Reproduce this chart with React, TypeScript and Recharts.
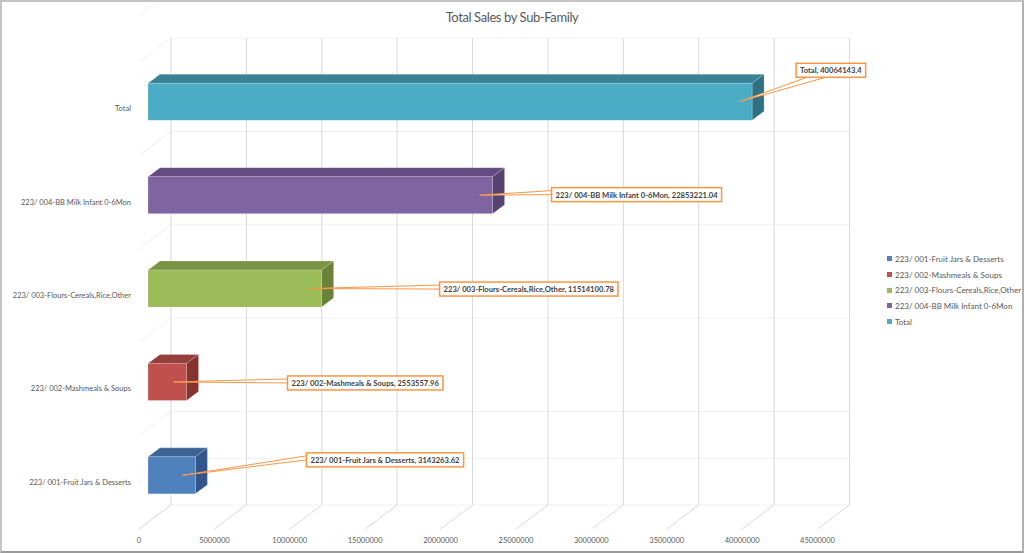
import React from "react";
import { BarChart, Bar, XAxis, YAxis, CartesianGrid, LabelList, Legend } from "recharts";

// ---- data ----
const categories = [
  "223/ 001-Fruit Jars & Desserts",
  "223/ 002-Mashmeals & Soups",
  "223/ 003-Flours-Cereals,Rice,Other",
  "223/ 004-BB Milk Infant 0-6Mon",
  "Total",
];
const salesValues = [3143263.62, 2553557.96, 11514100.78, 22853221.04, 40064143.4];
const valueTicks = [0, 5000000, 10000000, 15000000, 20000000, 25000000, 30000000, 35000000, 40000000, 45000000];

// ---- styling ----
const FRONT = ["#4F81BD", "#C0504D", "#9BBB59", "#8064A2", "#4BACC6"];
const TOP = ["#3C6496", "#953E3B", "#7A9445", "#634D80", "#388296"];
const SIDE = ["#34568A", "#84332F", "#6A813B", "#56436F", "#2F7183"];
// callout box offset relative to bar end / bar centre (layout only)
const LABEL_OFFSET: [number, number][] = [
  [111, -22.5],
  [101, -6],
  [118, -6.5],
  [59, -7.5],
  [44, -38.5],
];

const FONT = "Lato, 'Open Sans', sans-serif";
const DX = 12; // bar depth x
const DY = 9; // bar depth y
const BACK_X = 23;
const BACK_Y = 17.25;
const FRONT_X = 9;
const FRONT_Y = 6.75;

const data = categories.map((name, i) => ({ name, value: salesValues[i] }));

let _ctx: CanvasRenderingContext2D | null = null;
function measure(text: string, font: string): number {
  if (!_ctx) {
    const c = document.createElement("canvas");
    _ctx = c.getContext("2d");
  }
  if (!_ctx) return text.length * 4;
  _ctx.font = font;
  return _ctx.measureText(text).width;
}

const Bar3D = (props: any) => {
  const { x, y, width, height, index } = props;
  if (width == null || height == null) return null;
  const w = Math.max(0, width);
  const edge = "rgba(255,255,255,0.35)";
  return (
    <g>
      <polygon
        points={`${x},${y} ${x + DX},${y - DY} ${x + w + DX},${y - DY} ${x + w},${y}`}
        fill={TOP[index]}
        stroke={edge}
        strokeWidth={0.5}
      />
      <polygon
        points={`${x + w},${y} ${x + w + DX},${y - DY} ${x + w + DX},${y + height - DY} ${x + w},${y + height}`}
        fill={SIDE[index]}
        stroke={edge}
        strokeWidth={0.5}
      />
      <rect x={x} y={y} width={w} height={height} fill={FRONT[index]} stroke={edge} strokeWidth={0.5} />
    </g>
  );
};

const LABEL_FONT_SIZE = 7.6;
const LABEL_FONT = `bold ${LABEL_FONT_SIZE}px Lato`;

const Callout = (props: any) => {
  const { x, y, width, height, index, value } = props;
  const text = `${categories[index]}, ${value}`;
  const endX = x + width;
  const cy = y + height / 2;
  const [ox, oy] = LABEL_OFFSET[index];
  const bx = endX + ox;
  const by = cy + oy;
  const tw = measure(text, LABEL_FONT);
  const bw = tw + 8;
  const bh = 14;
  const sx = endX - 13;
  const sy = cy;
  let pts: string;
  if (bx - sx > 3 * (sy - (by + bh))) {
    pts = `${sx},${sy} ${bx},${by + 3} ${bx},${by + 7}`;
  } else {
    pts = `${sx},${sy} ${bx + 11},${by + bh} ${bx + 30},${by + bh}`;
  }
  return (
    <g>
      <polygon points={pts} fill="#ffffff" stroke="#F79646" strokeWidth={1} strokeLinejoin="round" />
      <rect x={bx} y={by} width={bw} height={bh} fill="#ffffff" stroke="#F79646" strokeWidth={1.5} />
      <text
        x={bx + bw / 2}
        y={by + bh / 2}
        textAnchor="middle"
        dominantBaseline="central"
        fontFamily={FONT}
        fontWeight="bold"
        fontSize={LABEL_FONT_SIZE}
        fill="#404040"
      >
        {text}
      </text>
    </g>
  );
};

const gridColor = "#d9d9d9";
const wallColor = "#f0f0f0";

const renderVertical = (p: any) => {
  const x = p.x1;
  const top = p.y1;
  const bottom = p.y2;
  return (
    <g key={p.key ?? `v-${p.index}`}>
      <line x1={x + BACK_X} y1={top - BACK_Y} x2={x + BACK_X} y2={bottom - BACK_Y} stroke={gridColor} strokeWidth={1} />
      <line x1={x + BACK_X} y1={bottom - BACK_Y} x2={x - FRONT_X} y2={bottom + FRONT_Y} stroke={gridColor} strokeWidth={1} />
    </g>
  );
};

const renderHorizontal = (p: any) => {
  const band = p.height / categories.length;
  const left = p.x;
  const right = p.x + p.width;
  const lines = [p.y1 - band / 2];
  if (p.index === categories.length - 1) lines.push(p.y1 + band / 2);
  if (p.index === 0) lines.push(p.y1 + band / 2);
  return (
    <g key={p.key ?? `h-${p.index}`}>
      {lines.map((yy, k) => (
        <g key={k}>
          <line x1={left + BACK_X} y1={yy - BACK_Y} x2={right + BACK_X} y2={yy - BACK_Y} stroke={wallColor} strokeWidth={1} />
          <line x1={left + BACK_X} y1={yy - BACK_Y} x2={left - FRONT_X} y2={yy + FRONT_Y} stroke={wallColor} strokeWidth={1} />
        </g>
      ))}
    </g>
  );
};

const XTick = (p: any) => (
  <text
    x={p.x - FRONT_X}
    y={p.y + 18}
    textAnchor="middle"
    dominantBaseline="central"
    fontFamily={FONT}
    fontSize={7.5}
    fill="#595959"
  >
    {p.payload.value}
  </text>
);

const YTick = (p: any) => (
  <text
    x={p.x}
    y={p.y + FRONT_Y}
    textAnchor="end"
    dominantBaseline="central"
    fontFamily={FONT}
    fontSize={7.5}
    fill="#595959"
  >
    {p.payload.value}
  </text>
);

const LegendContent = () => (
  <div style={{ fontFamily: FONT, fontSize: 8, color: "#595959" }}>
    {categories.map((c, i) => (
      <div key={c} style={{ display: "flex", alignItems: "center", height: 15.7, whiteSpace: "nowrap" }}>
        <span style={{ display: "inline-block", width: 5, height: 5, background: FRONT[i], marginRight: 3 }} />
        <span>{c}</span>
      </div>
    ))}
  </div>
);

export default function App() {
  return (
    <div
      style={{
        position: "absolute",
        left: 0,
        top: 0,
        width: 1024,
        height: 553,
        background: "#fff",
        boxSizing: "border-box",
        borderTop: "2px solid #c4c4c4",
        borderLeft: "2px solid #c4c4c4",
        borderRight: "2px solid #b0b0b0",
        borderBottom: "2px solid #9a9a9a",
        overflow: "hidden",
      }}
    >
      <div
        style={{
          position: "absolute",
          left: 0,
          top: 7,
          width: 1020,
          textAlign: "center",
          fontFamily: FONT,
          fontSize: 13,
          letterSpacing: -0.4,
          color: "#595959",
        }}
      >
        Total Sales by Sub-Family
      </div>
      <div style={{ position: "absolute", left: -2, top: -2 }}>
        <BarChart
          width={1024}
          height={553}
          data={data}
          layout="vertical"
          margin={{ top: 55.25, right: 197.5, bottom: 0, left: 0 }}
          barCategoryGap={(93.4 - 37) / 2}
        >
          <CartesianGrid vertical={renderVertical} horizontal={renderHorizontal} />
          <XAxis
            type="number"
            domain={[0, 45000000]}
            ticks={valueTicks}
            interval={0}
            axisLine={false}
            tickLine={false}
            tickSize={0}
            tickMargin={0}
            height={30.75}
            tick={<XTick />}
          />
          <YAxis
            type="category"
            dataKey="name"
            reversed
            width={148}
            axisLine={false}
            tickLine={false}
            tickSize={0}
            tickMargin={17}
            interval={0}
            tick={<YTick />}
          />
          <Legend
            layout="vertical"
            align="center"
            verticalAlign="middle"
            content={<LegendContent />}
            wrapperStyle={{ position: "absolute", left: 887, top: 251, width: 140 }}
          />
          <Bar dataKey="value" barSize={37} shape={<Bar3D />} isAnimationActive={false}>
            <LabelList dataKey="value" content={<Callout />} />
          </Bar>
        </BarChart>
      </div>
    </div>
  );
}
